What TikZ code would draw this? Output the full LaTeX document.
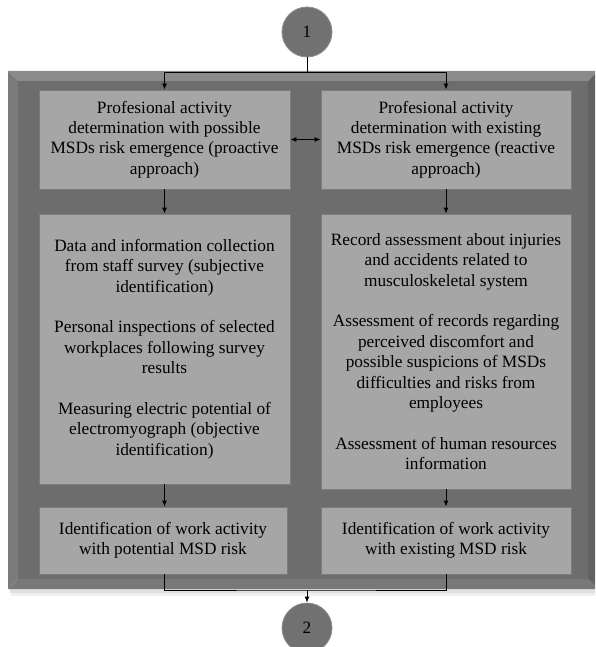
\documentclass[tikz,border=0pt]{standalone}
\usepackage{fontspec}
\setmainfont{Liberation Serif}
\usetikzlibrary{arrows.meta}
\definecolor{framemid}{HTML}{6D6D6D}
\definecolor{frametop}{HTML}{8B8B8B}
\definecolor{frameleft}{HTML}{7B7B7B}
\definecolor{framebot}{HTML}{787878}
\definecolor{frameright}{HTML}{626262}
\definecolor{boxfill}{HTML}{A6A6A6}
\definecolor{boxedge}{HTML}{7C7C7C}
\definecolor{discfill}{HTML}{717171}
\definecolor{discedge}{HTML}{8E8E8E}
\tikzset{
  stagebox/.style={draw=boxedge, line width=0.9pt, fill=boxfill, align=center,
    inner sep=0pt, font=\fontsize{17.3}{20.4}\selectfont},
  connector/.style={circle, draw=discedge, line width=0.8pt, fill=discfill,
    minimum size=50pt, inner sep=0pt, font=\fontsize{17.3}{20.4}\selectfont},
  link/.style={draw=black, line width=0.9pt},
  flow/.style={link, -{Latex[length=6pt,width=5pt]}},
  flowboth/.style={link, {Latex[length=6pt,width=5pt]}-{Latex[length=6pt,width=5pt]}}
}
\begin{document}
\begin{tikzpicture}[x=1pt,y=-1pt]
\useasboundingbox (0,0) rectangle (595,647);
\clip (0,0) rectangle (595,647);
\fill[white] (0,0) rectangle (595,647);

% soft shadow under the bevelled frame
\fill[black!12] (10,589) rectangle (600,593);
\fill[black!6] (11,593) rectangle (600,596);

% bevelled frame
\fill[framemid] (18,81) rectangle (588,579);
\fill[frametop] (8,71) -- (598,71) -- (588,81) -- (18,81) -- cycle;
\fill[frameleft] (8,71) -- (18,81) -- (18,579) -- (8,589) -- cycle;
\fill[framebot] (8,589) -- (18,579) -- (588,579) -- (598,589) -- cycle;
\fill[frameright] (598,71) -- (588,81) -- (588,579) -- (598,589) -- cycle;

% connector discs
\node[connector] (c1) at (307,32) {1};
\node[connector] (c2) at (307,628) {2};

% proactive column
\node[stagebox, minimum width=251pt, minimum height=99pt] (a1) at (164.5,139.5)
  {Profesional activity\\determination with possible\\MSDs risk emergence (proactive\\approach)};
\node[stagebox, minimum width=251pt, minimum height=270pt] (a2) at (164.5,349)
  {Data and information collection\\from staff survey (subjective\\identification)\\[20.4pt]
   Personal inspections of selected\\workplaces following survey\\results\\[20.4pt]
   Measuring electric potential of\\electromyograph (objective\\identification)};
\node[stagebox, minimum width=248pt, minimum height=67pt] (a3) at (163,540.5)
  {Identification of work activity\\with potential MSD risk};

% reactive column
\node[stagebox, minimum width=250pt, minimum height=99pt] (b1) at (446,139.5)
  {Profesional activity\\determination with existing\\MSDs risk emergence (reactive\\approach)};
\node[stagebox, minimum width=250pt, minimum height=275pt] (b2) at (446,351.5)
  {Record assessment about injuries\\and accidents related to\\musculoskeletal system\\[20.4pt]
   Assessment of records regarding\\perceived discomfort and\\possible suspicions of MSDs\\difficulties and risks from\\employees\\[20.4pt]
   Assessment of human resources\\information};
\node[stagebox, minimum width=250pt, minimum height=67pt] (b3) at (446,540.5)
  {Identification of work activity\\with existing MSD risk};

% junctions
\coordinate (split) at (307,72);
\coordinate (merge) at (307,590);

% connectors
\draw[link] (c1.south) -- (split);
\draw[flow] (split) -| (a1.north);
\draw[flow] (split) -| (b1.north);
\draw[flowboth] (a1.east) -- (b1.west);
\draw[flow] (a1.south) -- (a2.north);
\draw[flow] (b1.south) -- (b2.north);
\draw[flow] (a2.south) -- (a2.south |- a3.north);
\draw[flow] (b2.south) -- (b3.north);
\draw[link] (a2.south |- a3.south) |- (merge) -| (b3.south);
\draw[flow] (merge) -- (c2.north);
\end{tikzpicture}
\end{document}
